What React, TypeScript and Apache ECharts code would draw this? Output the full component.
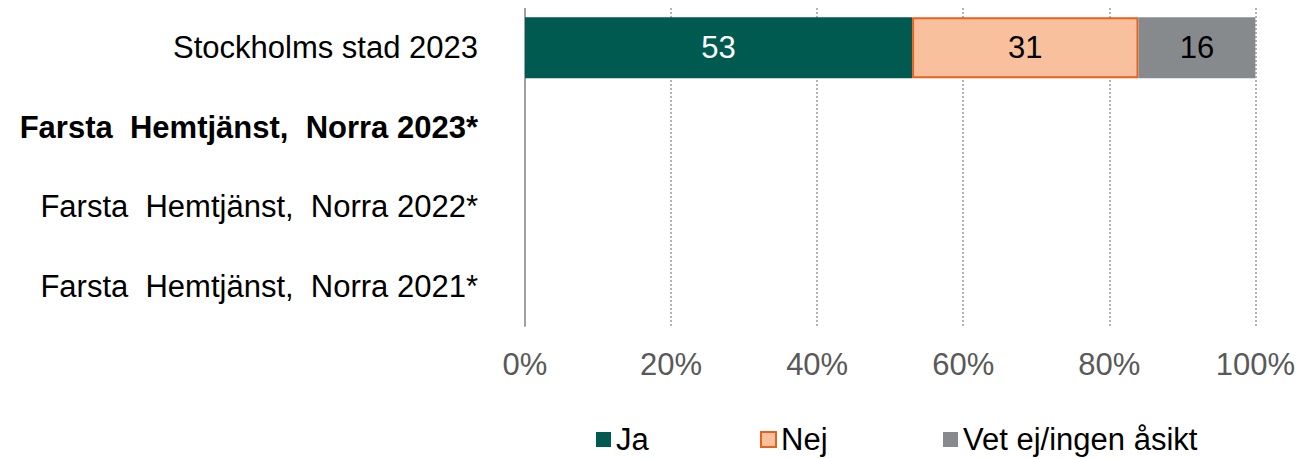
import React, { useEffect, useRef } from "react";
import * as echarts from "echarts";

const categories = [
  "Stockholms stad 2023",
  "Farsta  Hemtjänst,  Norra 2023*",
  "Farsta  Hemtjänst,  Norra 2022*",
  "Farsta  Hemtjänst,  Norra 2021*",
];
const boldCategory = "Farsta  Hemtjänst,  Norra 2023*";
const jaValues = [53, null, null, null];
const nejValues = [31, null, null, null];
const vetValues = [16, null, null, null];
const seriesNames = ["Ja", "Nej", "Vet ej/ingen åsikt"];
const xTicks = [0, 20, 40, 60, 80, 100];

const FONT = "'Liberation Sans', Arial, sans-serif";

export default function App() {
  const ref = useRef<HTMLDivElement>(null);
  useEffect(() => {
    if (!ref.current) return;
    const chart = echarts.init(ref.current, null, { renderer: "svg" });
    const fs = 31;
    const mkLegend = (name: string, left: number) => ({
      data: [name],
      left,
      top: 416,
      padding: 0,
      itemWidth: 15,
      itemHeight: 15,
      itemGap: 0,
      icon: "rect",
      textStyle: { fontFamily: FONT, fontSize: fs, color: "#000" },
    });
    chart.setOption({
      animation: false,
      textStyle: { fontFamily: FONT },
      grid: { left: 517, right: 39, top: 0, height: 318 },
      legend: [
        mkLegend(seriesNames[0], 588),
        mkLegend(seriesNames[1], 752),
        mkLegend(seriesNames[2], 935),
      ],
      xAxis: {
        type: "value",
        min: xTicks[0],
        max: xTicks[xTicks.length - 1],
        interval: 20,
        axisLine: { show: false },
        axisTick: { show: false },
        axisLabel: {
          formatter: "{value}%",
          fontFamily: FONT,
          fontSize: fs,
          color: "#595959",
          margin: 23,
        },
        splitLine: {
          show: true,
          lineStyle: { color: "#B4B4B4", width: 2, type: [2, 2] },
        },
      },
      yAxis: {
        type: "category",
        data: categories,
        inverse: true,
        axisLine: { show: true, lineStyle: { color: "#A0A0A0", width: 2 } },
        axisTick: { show: false },
        axisLabel: {
          margin: 47,
          fontFamily: FONT,
          fontSize: fs,
          color: "#000",
          formatter: (v: string) => (v === boldCategory ? `{b|${v}}` : v),
          rich: {
            b: { fontWeight: "bold", fontFamily: FONT, fontSize: fs, color: "#000" },
          },
        },
      },
      series: [
        {
          name: seriesNames[0],
          type: "bar",
          stack: "total",
          barWidth: 61,
          data: jaValues,
          itemStyle: { color: "#005A50" },
          label: { show: true, position: "inside", color: "#fff", fontSize: fs, fontFamily: FONT },
        },
        {
          name: seriesNames[1],
          type: "bar",
          stack: "total",
          barWidth: 61,
          data: nejValues,
          itemStyle: { color: "#F8C09D", borderColor: "#E8601C", borderWidth: 2 },
          label: { show: true, position: "inside", color: "#000", fontSize: fs, fontFamily: FONT },
        },
        {
          name: seriesNames[2],
          type: "bar",
          stack: "total",
          barWidth: 61,
          data: vetValues,
          itemStyle: { color: "#878A8C" },
          label: { show: true, position: "inside", color: "#000", fontSize: fs, fontFamily: FONT },
        },
      ],
    });
    return () => chart.dispose();
  }, []);
  return <div ref={ref} style={{ width: 1290, height: 451 }} />;
}
